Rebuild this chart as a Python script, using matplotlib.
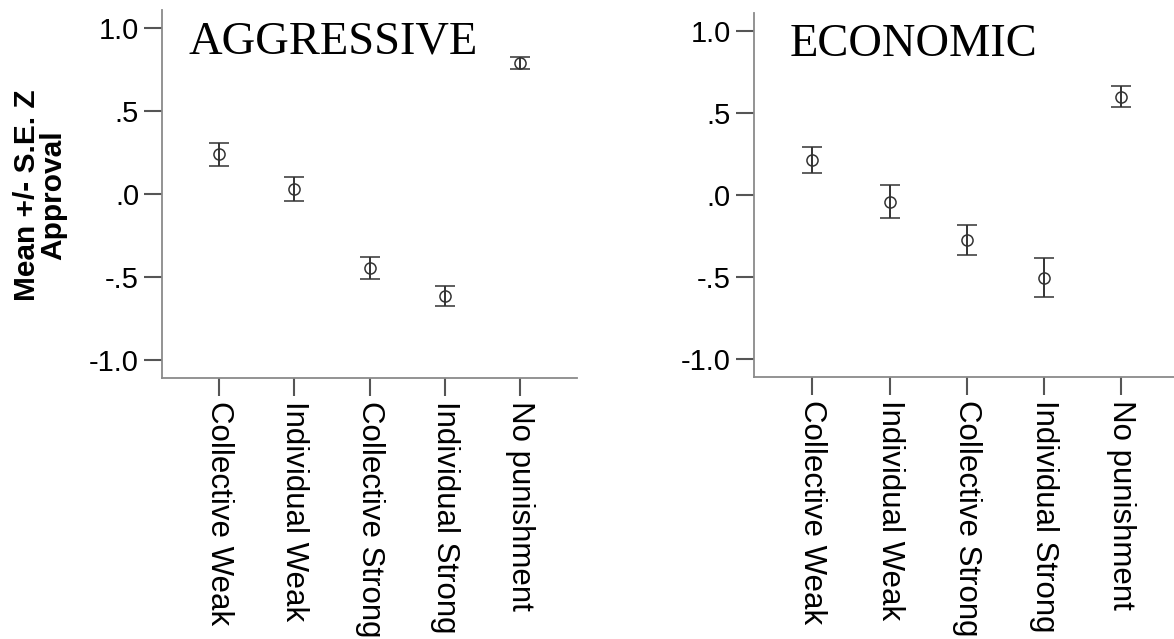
import numpy as np
import matplotlib.pyplot as plt

conditions = ["Collective Weak", "Individual Weak", "Collective Strong",
              "Individual Strong", "No punishment"]

aggr_mean = [0.24, 0.03, -0.445, -0.615, 0.79]
aggr_se = [0.068, 0.073, 0.067, 0.062, 0.037]

econ_mean = [0.215, -0.04, -0.275, -0.505, 0.60]
econ_se = [0.080, 0.100, 0.093, 0.120, 0.065]

yticks = [-1.0, -0.5, 0.0, 0.5, 1.0]
ytick_labels = ["-1.0", "-.5", ".0", ".5", "1.0"]

# title, means, SEs, axes rect, title x offset
panels = [
    ("AGGRESSIVE", aggr_mean, aggr_se, [0.138, 0.4085, 0.3535, 0.5755], 0.063),
    ("ECONOMIC", econ_mean, econ_se, [0.642, 0.410, 0.363, 0.5696], 0.085),
]

plt.rcParams['font.family'] = ['Liberation Sans', 'DejaVu Sans']

fig = plt.figure(figsize=(11.74, 6.39), dpi=100)

for title, means, ses, pos, tx in panels:
    ax = fig.add_axes(pos)
    x = np.arange(len(conditions))
    ax.errorbar(x, means, yerr=ses, fmt='o', color='#333333', ecolor='#333333',
                elinewidth=1.4, capsize=7, capthick=1.4,
                markersize=8, markerfacecolor='none', markeredgewidth=1.1)

    ax.set_xlim(-0.76, len(conditions) - 0.24)
    ax.set_ylim(-1.11, 1.11)
    ax.set_xticks(x)
    ax.set_xticklabels(conditions, rotation=270, fontsize=22.5, va='top', ha='center')
    ax.set_yticks(yticks)
    ax.set_yticklabels(ytick_labels, fontsize=21)

    for side in ["top", "right"]:
        ax.spines[side].set_visible(False)
    for side in ["left", "bottom"]:
        ax.spines[side].set_color('#8a8a8a')
        ax.spines[side].set_linewidth(1.3)
    ax.tick_params(axis='both', length=13, width=1.5, color='#555555', pad=3.5)

    ax.text(tx, 0.972, title, transform=ax.transAxes, fontsize=33.5,
            family='Liberation Serif', ha='left', va='top')

fig.text(0.034, 1 - 195 / 639, "Mean +/- S.E. Z\nApproval", rotation=90,
         fontsize=21.5, fontweight='bold', ha='center', va='center',
         multialignment='center', linespacing=0.9)

fig.savefig("out.png", dpi=100)
